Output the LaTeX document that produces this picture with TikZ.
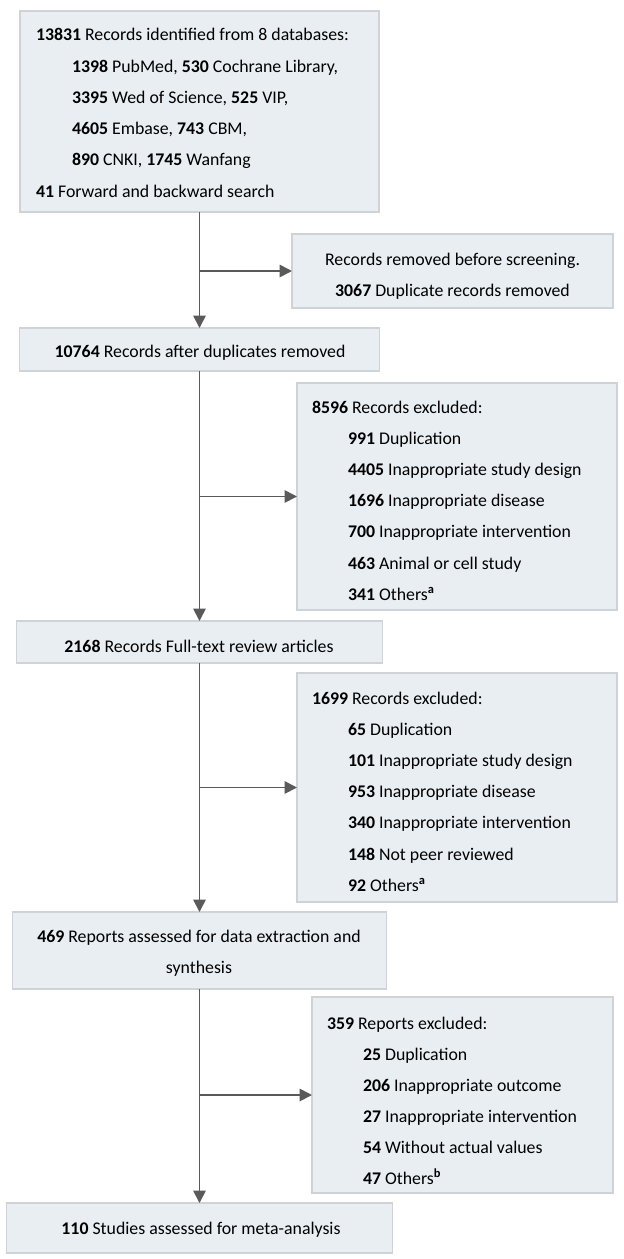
\documentclass[tikz,border=0pt]{standalone}
\usepackage{fontspec}
\setmainfont{Carlito}
\usetikzlibrary{arrows.meta}
\definecolor{boxfill}{HTML}{E9EEF2}
\definecolor{boxline}{HTML}{CFD3D7}
\definecolor{arrcol}{HTML}{5A5A5A}
\tikzset{
  box/.style={draw=boxline, fill=boxfill, line width=1.2pt, rectangle, inner sep=0pt, outer sep=0pt},
  txt/.style={anchor=base west, inner sep=0pt, outer sep=0pt, font=\fontsize{17.8pt}{20pt}\selectfont, text=black},
  ctxt/.style={txt, anchor=base},
  arr/.style={draw=arrcol, line width=1.8pt, -{Triangle[width=12.5pt,length=12.5pt]}, shorten >=0pt},
}
\newcommand{\nb}[1]{\textbf{#1}}
\begin{document}
\begin{tikzpicture}[x=1pt,y=-1pt]
\useasboundingbox[fill=white] (0,0) rectangle (624,1259);
% boxes
\node[box, minimum width=359pt, minimum height=201pt] (b1) at (199.5,111.5) {};
\node[box, minimum width=321pt, minimum height=74pt] (rm) at (452.5,271) {};
\node[box, minimum width=360pt, minimum height=43pt] (b2) at (199.5,349.5) {};
\node[box, minimum width=320pt, minimum height=227pt] (ex1) at (457,496.5) {};
\node[box, minimum width=366pt, minimum height=42pt] (b3) at (199.5,642) {};
\node[box, minimum width=320pt, minimum height=229pt] (ex2) at (457,787.5) {};
\node[box, minimum width=374pt, minimum height=77pt] (b4) at (199.5,950.5) {};
\node[box, minimum width=301pt, minimum height=196pt] (ex3) at (462.5,1095) {};
\node[box, minimum width=386pt, minimum height=50pt] (b5) at (199.5,1228) {};
% box 1 text
\node[txt] (t1a) at (36,40.7) {\nb{13831} Records identified from 8 databases:};
\node[txt] (t1b) at (72,72.0) {\nb{1398} PubMed, \nb{530} Cochrane Library,};
\node[txt] (t1c) at (72,103.3) {\nb{3395} Wed of Science, \nb{525} VIP,};
\node[txt] (t1d) at (72,134.6) {\nb{4605} Embase, \nb{743} CBM,};
\node[txt] (t1e) at (72,165.9) {\nb{890} CNKI, \nb{1745} Wanfang};
\node[txt] (t1f) at (36,197.2) {\nb{41} Forward and backward search};
% removed
\node[ctxt] (trma) at (452.5,265) {Records removed before screening.};
\node[ctxt] (trmb) at (452.5,296) {\nb{3067} Duplicate records removed};
% box 2
\node[ctxt] (t2) at (200,357) {\nb{10764} Records after duplicates removed};
% excluded 1
\node[txt] (e1a) at (312,413) {\nb{8596} Records excluded:};
\node[txt] (e1b) at (348,444.2) {\nb{991} Duplication};
\node[txt] (e1c) at (348,475.4) {\nb{4405} Inappropriate study design};
\node[txt] (e1d) at (348,506.6) {\nb{1696} Inappropriate disease};
\node[txt] (e1e) at (348,537.8) {\nb{700} Inappropriate intervention};
\node[txt] (e1f) at (348,569) {\nb{463} Animal or cell study};
\node[txt] (e1g) at (348,600.2) {\nb{341} Others\textsuperscript{\textbf{a}}};
% box 3
\node[ctxt] (t3) at (199,652) {\nb{2168} Records Full-text review articles};
% excluded 2
\node[txt] (e2a) at (312,704) {\nb{1699} Records excluded:};
\node[txt] (e2b) at (348,735.2) {\nb{65} Duplication};
\node[txt] (e2c) at (348,766.4) {\nb{101} Inappropriate study design};
\node[txt] (e2d) at (348,797.6) {\nb{953} Inappropriate disease};
\node[txt] (e2e) at (348,828.8) {\nb{340} Inappropriate intervention};
\node[txt] (e2f) at (348,860) {\nb{148} Not peer reviewed};
\node[txt] (e2g) at (348,891.2) {\nb{92} Others\textsuperscript{\textbf{a}}};
% box 4
\node[ctxt] (t4a) at (199,942) {\nb{469} Reports assessed for data extraction and};
\node[ctxt] (t4b) at (199,973) {synthesis};
% excluded 3
\node[txt] (e3a) at (327,1029) {\nb{359} Reports excluded:};
\node[txt] (e3b) at (363,1060) {\nb{25} Duplication};
\node[txt] (e3c) at (363,1091) {\nb{206} Inappropriate outcome};
\node[txt] (e3d) at (363,1122) {\nb{27} Inappropriate intervention};
\node[txt] (e3e) at (363,1153) {\nb{54} Without actual values};
\node[txt] (e3f) at (363,1184) {\nb{47} Others\textsuperscript{\textbf{b}}};
% box 5
\node[ctxt] (t5) at (201,1234) {\nb{110} Studies assessed for meta-analysis};
% connectors
\draw[arr] (b1.south) -- (b2.north);
\draw[arr] (b1.south |- rm.west) -- (rm.west);
\draw[arr] (b2.south) -- (b3.north);
\draw[arr] (b2.south |- ex1.west) -- (ex1.west);
\draw[arr] (b3.south) -- (b4.north);
\draw[arr] (b3.south |- ex2.west) -- (ex2.west);
\draw[arr] (b4.south) -- (b5.north);
\draw[arr] (b4.south |- ex3.west) -- (ex3.west);
\end{tikzpicture}
\end{document}
